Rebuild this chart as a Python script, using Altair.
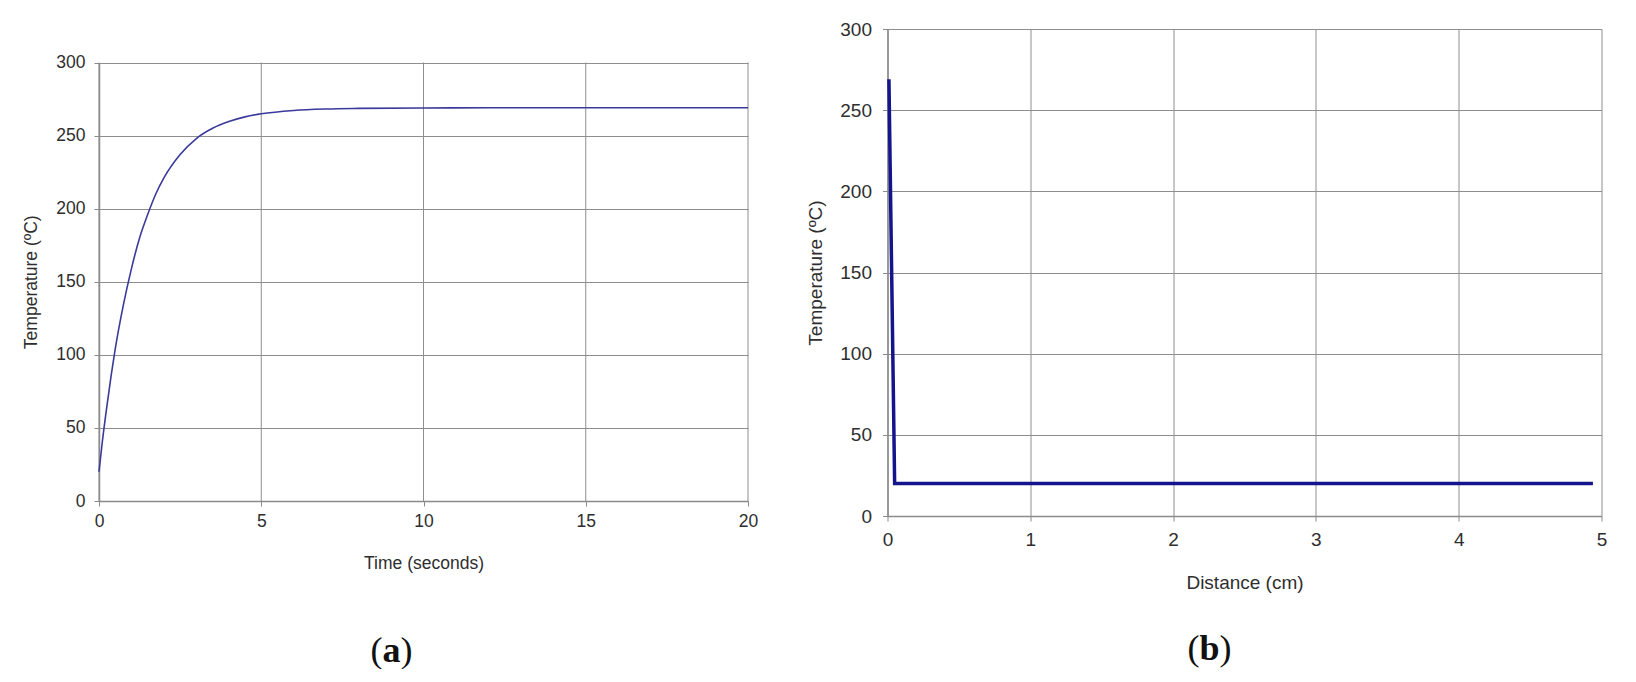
import altair as alt
import pandas as pd

# ---- data ----
time_s = [0, 0.1, 0.25, 0.375, 0.5, 0.75, 1, 1.25, 1.5, 1.75, 2, 2.5, 3, 3.5, 4, 4.5, 5, 6, 7, 8, 10, 12, 15, 20]
temp_time = [20, 40, 66, 86, 104, 134, 159, 180, 196, 210, 221, 237, 248, 255, 259.6, 262.8, 264.9, 267.2, 268.2, 268.6, 268.9, 269, 269, 269]

distance_cm = [0.01, 0.05, 4.94]
temp_dist = [269, 20, 20]

time_ticks = [0, 5, 10, 15, 20]
dist_ticks = [0, 1, 2, 3, 4, 5]
temp_ticks = [0, 50, 100, 150, 200, 250, 300]

FONT = "Liberation Sans"
SERIF = "Liberation Serif"
GRID = "#8e8e8e"
DOMAIN = "#8a8a8a"
TXT = "#2e2e2e"

df_a = pd.DataFrame({"t": time_s, "T": temp_time})
df_b = pd.DataFrame({"d": distance_cm, "T": temp_dist})
df_ticks_a = pd.DataFrame({"t": time_ticks})
one = pd.DataFrame({"k": [0]})


def axis(values, title, fs, label_pad, title_x=None, title_y=None, fmt="d", grid=True):
    kw = dict(
        values=values, title=title, format=fmt, grid=grid, gridColor=GRID, gridWidth=1,
        domainColor=DOMAIN, domainWidth=1.5, tickColor=DOMAIN, tickWidth=1, tickSize=5,
        labelFont=FONT, labelFontSize=fs, labelColor=TXT, labelPadding=label_pad,
        labelFlush=False, titleFont=FONT, titleFontSize=fs, titleFontWeight="normal",
        titleColor=TXT,
    )
    if title_x is not None:
        kw.update(titleX=title_x, titleBaseline="middle")
    if title_y is not None:
        kw.update(titleY=title_y, titleBaseline="alphabetic")
    return alt.Axis(**kw)


def panel_label(letter, cx, base_y, half):
    p1 = alt.Chart(one).mark_text(text="(", font=SERIF, fontSize=36, color="#111",
                                  align="right", baseline="alphabetic").encode(
        x=alt.value(cx - half), y=alt.value(base_y))
    p2 = alt.Chart(one).mark_text(text=letter, font=SERIF, fontSize=36, fontWeight="bold",
                                  color="#111", align="center", baseline="alphabetic").encode(
        x=alt.value(cx), y=alt.value(base_y))
    p3 = alt.Chart(one).mark_text(text=")", font=SERIF, fontSize=36, color="#111",
                                  align="left", baseline="alphabetic").encode(
        x=alt.value(cx + half), y=alt.value(base_y))
    return p1 + p2 + p3


def anchor(x1, x2, y):
    return alt.Chart(one).mark_rule(color="white", strokeWidth=1).encode(
        x=alt.value(x1), x2=alt.value(x2), y=alt.value(y))


# ---- panel (a) ----
FS_A = 17.5
H_A = 472
TOP_A = 33.5
x_a = alt.X("t:Q", scale=alt.Scale(domain=[0, 20], nice=False),
            axis=axis(time_ticks, "Time (seconds)", FS_A, 6, title_y=67, grid=False))
vgrid_a = alt.Chart(df_ticks_a).mark_rule(color=GRID, strokeWidth=1).encode(
    x=x_a, y=alt.value(TOP_A), y2=alt.value(H_A))
line_a = alt.Chart(df_a).mark_line(color="#3a3a9c", strokeWidth=1.6, interpolate="monotone").encode(
    x=x_a,
    y=alt.Y("T:Q", scale=alt.Scale(domain=[0, 300], nice=False, range=[H_A, TOP_A]),
            axis=axis(temp_ticks, "Temperature (ºC)", FS_A, 9, title_x=-67.5)),
)
left = alt.layer(
    vgrid_a,
    line_a,
    panel_label("a", 292.5, 633, 9),
    anchor(-88, 680, -18.5),
).properties(width=649, height=H_A)

# ---- panel (b) ----
FS_B = 19
line_b = alt.Chart(df_b).mark_line(color="#14148c", strokeWidth=3.5).encode(
    x=alt.X("d:Q", scale=alt.Scale(domain=[0, 5], nice=False),
            axis=axis(dist_ticks, "Distance (cm)", FS_B, 9, title_y=72)),
    y=alt.Y("T:Q", scale=alt.Scale(domain=[0, 300], nice=False),
            axis=axis(temp_ticks, "Temperature (ºC)", FS_B, 11, title_x=-72)),
)
right = alt.layer(
    line_b,
    panel_label("b", 322, 631, 10),
    anchor(-90.5, 714, -18.5),
).properties(width=714, height=487)

chart = alt.hconcat(left, right, spacing=16.5).properties(
    padding={"left": 2, "top": 2, "right": 5, "bottom": 0}
).configure_view(stroke=None)

chart.save("out.html", embed_options={"renderer": "svg", "actions": False})
